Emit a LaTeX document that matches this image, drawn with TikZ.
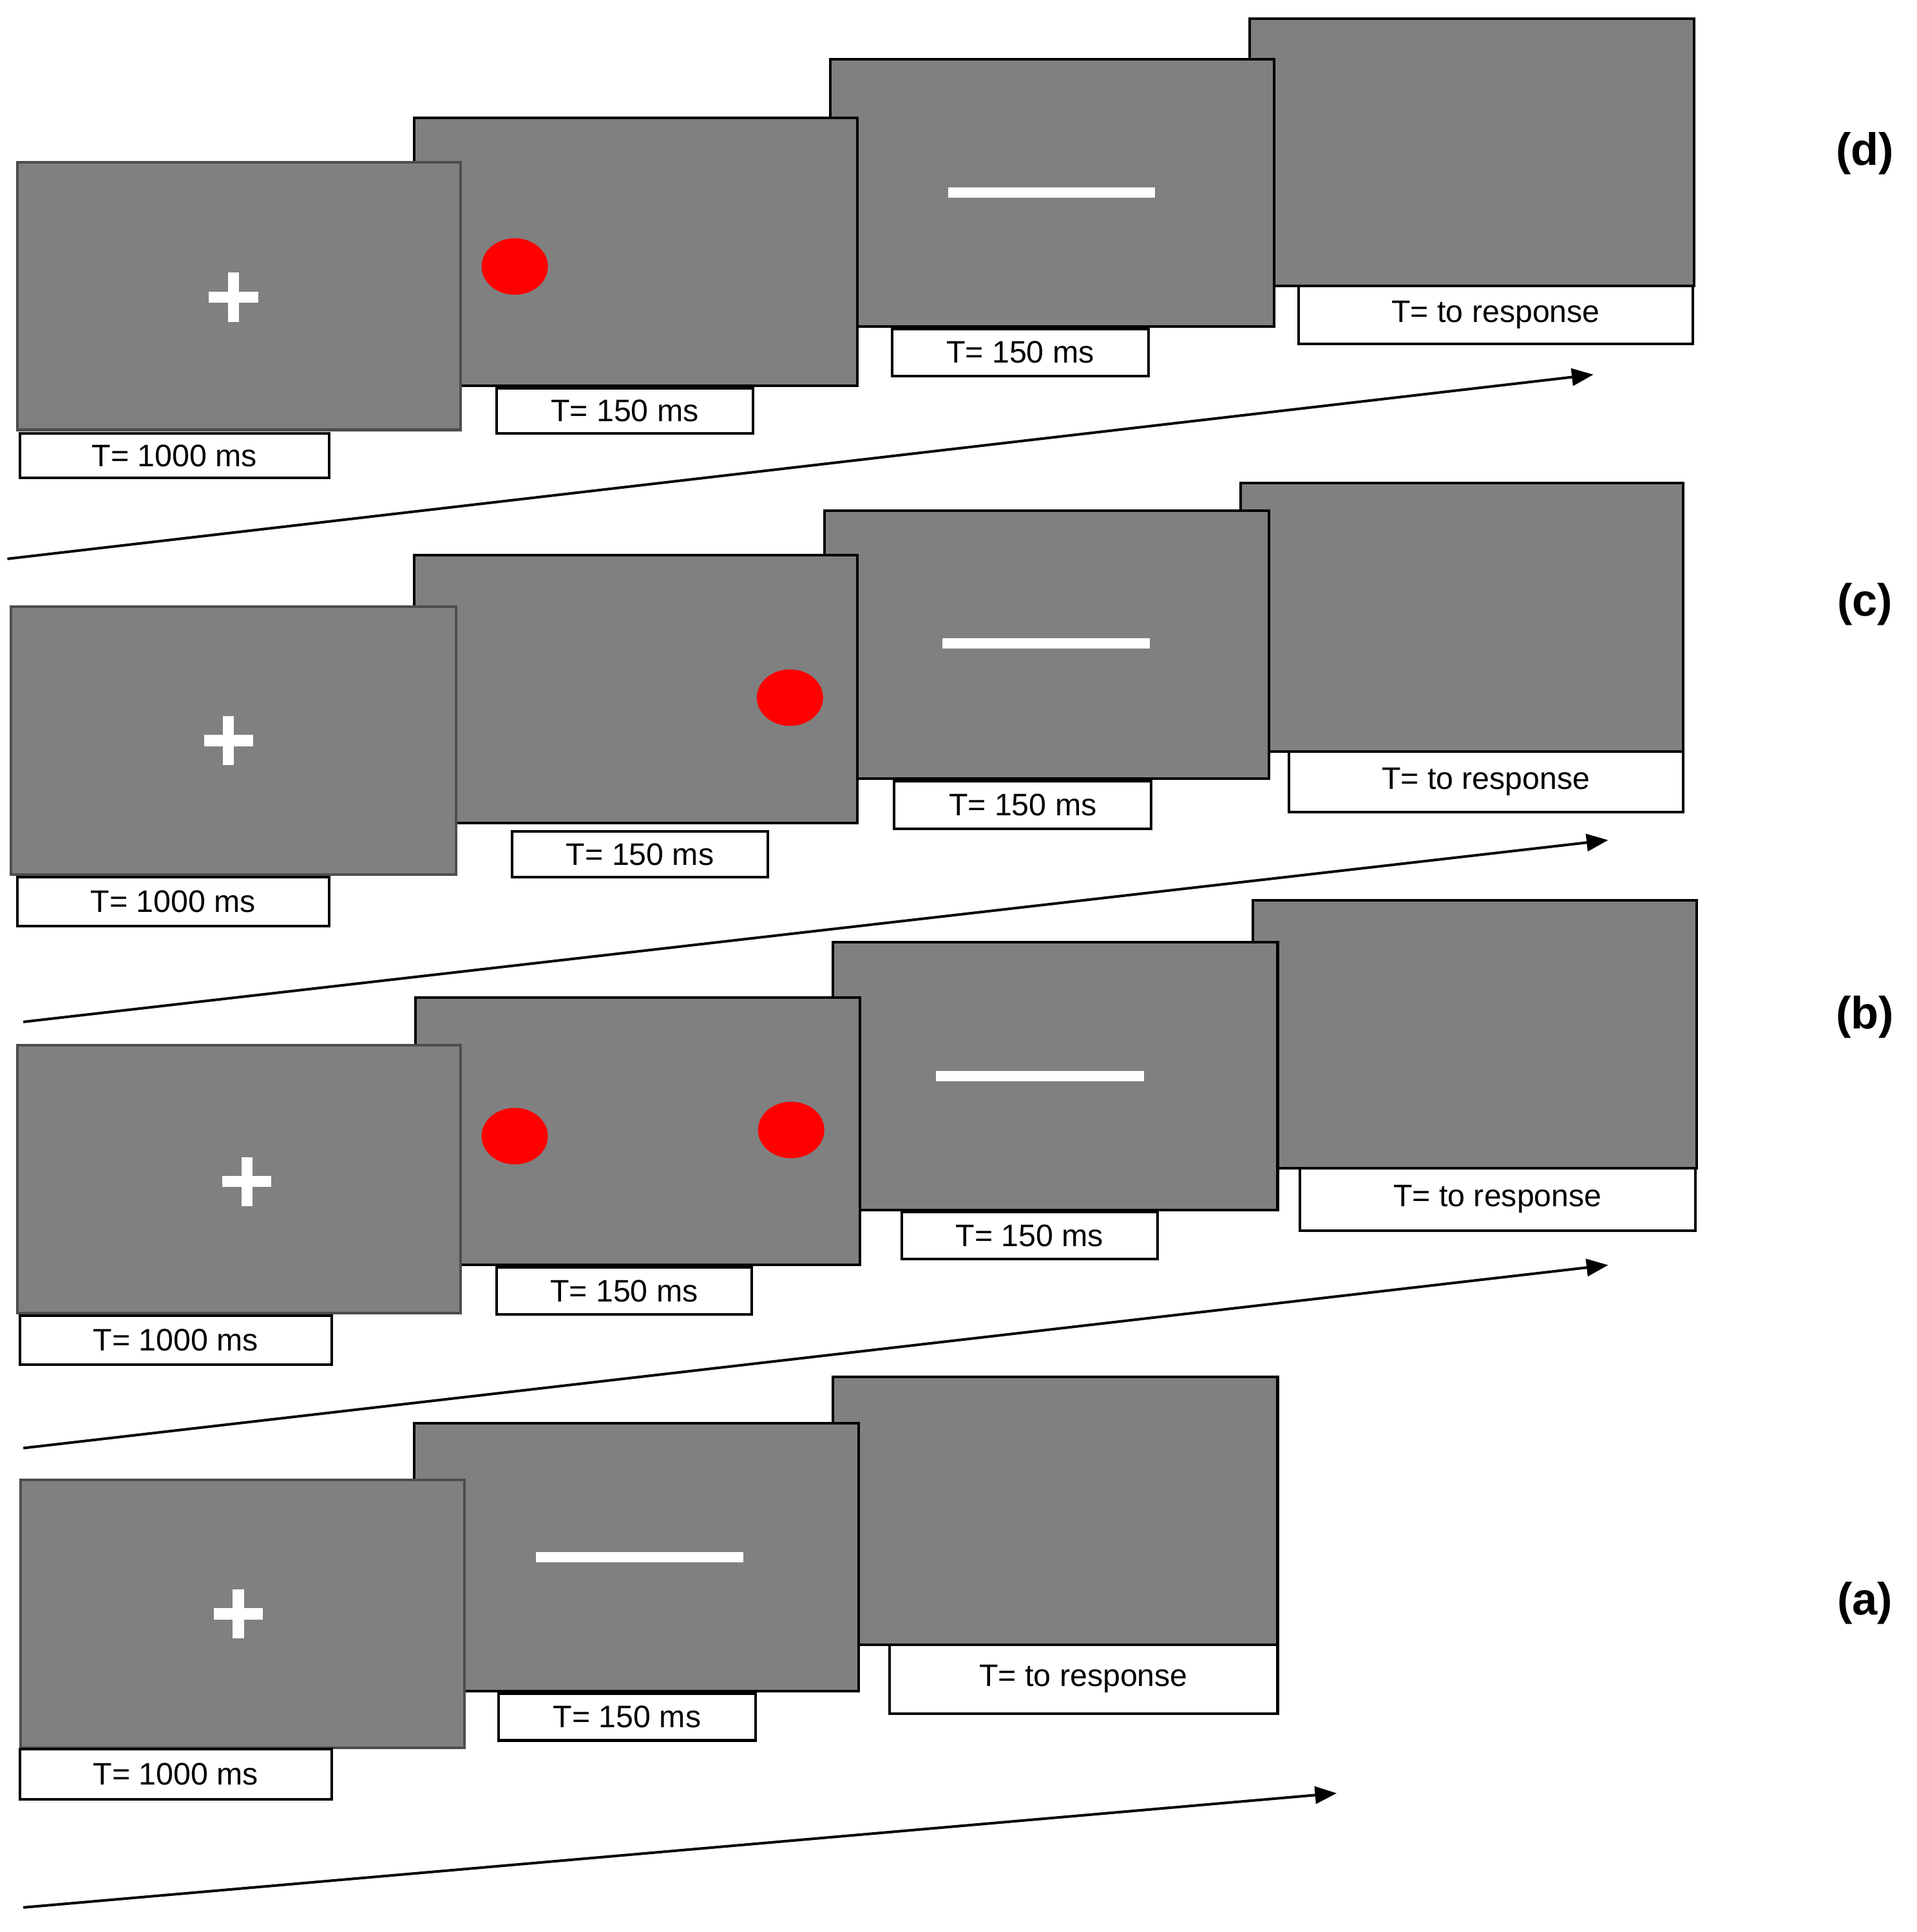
\documentclass[tikz,border=0pt]{standalone}
\usepackage{fontspec}
\setmainfont{Liberation Sans}
\usetikzlibrary{arrows.meta}
\definecolor{scr}{RGB}{128,128,128}
\definecolor{dotred}{RGB}{255,0,0}
\begin{document}
\begin{tikzpicture}[x=0.01cm,y=-0.01cm,
  screen/.style={fill=scr,draw=black,line width=0.6pt},
  lbl/.style={draw=black,fill=white,line width=0.6pt},
  txt/.style={font=\fontsize{7.2}{8}\selectfont,inner sep=0pt},
  cross/.style={draw=white,line width=2.6pt},
  bar/.style={draw=white,line width=2.4pt},
  reddot/.style={fill=dotred},
  tl/.style={draw=black,line width=0.6pt,-{Triangle[length=5pt,width=4pt]}},
  tag/.style={font=\fontsize{10.5}{12}\bfseries\rmfamily\selectfont}]
\useasboundingbox (0,0) rectangle (1560,1573);
\newcommand{\crs}[2]{\draw[cross] (#1-20,#2)--(#1+20,#2); \draw[cross] (#1,#2-20)--(#1,#2+20);}
\newcommand{\lab}[5]{\draw[lbl] (#1,#2) rectangle (#3,#4); \node[txt] at ({(#1+#3)/2},{(#2+#4)/2}) {#5};}
% ---------- (d)
\draw[screen] (1017,15) rectangle (1379,233);
\lab{1057}{233}{1378}{280}{T= to response}
\draw[screen] (676,48) rectangle (1037,266);
\draw[bar] (772,157)--(940,157);
\lab{726}{268}{935}{306}{T= 150 ms}
\draw[screen] (337,96) rectangle (698,314);
\fill[reddot] (419,217) ellipse (27 and 23);
\lab{404}{316}{613}{353}{T= 150 ms}
\draw[screen,draw=scr!60!black] (14,132) rectangle (375,350);
\crs{190}{242}
\lab{16}{353}{268}{389}{T= 1000 ms}
\coordinate (d0) at (6,455); \coordinate (d1) at (1297,305);
\draw[tl] (d0)--(d1);
\node[tag] (td) at (1518,125) {(d)};
% ---------- (c)
\draw[screen] (1010,393) rectangle (1370,612);
\lab{1049}{612}{1370}{661}{T= to response}
\draw[screen] (671,416) rectangle (1033,634);
\draw[bar] (767,524)--(936,524);
\lab{728}{636}{937}{675}{T= 150 ms}
\draw[screen] (337,452) rectangle (698,670);
\fill[reddot] (643,568) ellipse (27 and 23);
\lab{417}{677}{625}{714}{T= 150 ms}
\draw[screen,draw=scr!60!black] (9,494) rectangle (371,712);
\crs{186}{603}
\lab{14}{714}{268}{754}{T= 1000 ms}
\coordinate (c0) at (19,832); \coordinate (c1) at (1309,684);
\draw[tl] (c0)--(c1);
\node[tag] (tc) at (1518,492) {(c)};
% ---------- (b)
\draw[screen] (1020,733) rectangle (1381,951);
\lab{1058}{951}{1380}{1002}{T= to response}
\draw[screen] (678,767) rectangle (1040,985);
\draw[bar] (762,876)--(931,876);
\lab{734}{987}{942}{1025}{T= 150 ms}
\draw[screen] (338,812) rectangle (700,1030);
\fill[reddot] (419,925) ellipse (27 and 23);
\fill[reddot] (644,920) ellipse (27 and 23);
\lab{404}{1032}{612}{1070}{T= 150 ms}
\draw[screen,draw=scr!60!black] (14,851) rectangle (375,1069);
\crs{201}{962}
\lab{16}{1071}{270}{1111}{T= 1000 ms}
\coordinate (b0) at (19,1179); \coordinate (b1) at (1309,1030);
\draw[tl] (b0)--(b1);
\node[tag] (tb) at (1518,828) {(b)};
% ---------- (a)
\draw[screen] (678,1121) rectangle (1040,1339);
\lab{724}{1339}{1040}{1395}{T= to response}
\draw[screen] (337,1159) rectangle (699,1377);
\draw[bar] (436,1268)--(605,1268);
\lab{406}{1379}{615}{1417}{T= 150 ms}
\draw[screen,draw=scr!60!black] (17,1205) rectangle (378,1423);
\crs{194}{1314}
\lab{16}{1424}{270}{1465}{T= 1000 ms}
\coordinate (a0) at (19,1553); \coordinate (a1) at (1088,1460);
\draw[tl] (a0)--(a1);
\node[tag] (ta) at (1518,1305) {(a)};
\end{tikzpicture}
\end{document}
